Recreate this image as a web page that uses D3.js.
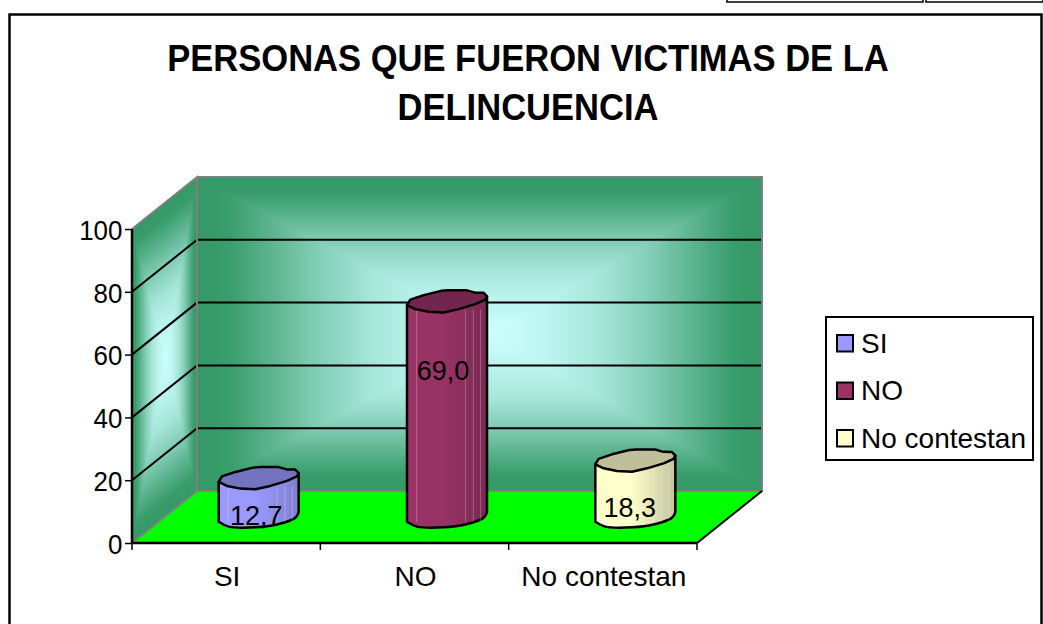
<!DOCTYPE html>
<html><head><meta charset="utf-8">
<script src="https://cdn.jsdelivr.net/npm/d3@7"></script>
<style>
html,body{margin:0;padding:0;background:#fff;overflow:hidden}
svg{display:block}
text{font-family:"Liberation Sans",Arial,sans-serif;fill:#000}
</style></head><body><svg id="c" width="1043" height="624"></svg>
<script>
const categories = ["SI","NO","No contestan"];
const values = [12.7,69.0,18.3];
const valueLabels = ["12,7","69,0","18,3"];
const yTicks = [0,20,40,60,80,100];
const titleLines = ["PERSONAS QUE FUERON VICTIMAS DE LA","DELINCUENCIA"];
const bodyColors = ["#9999ff","#993366","#ffffcc"];
const topColors = ["#7373bf","#73264d","#bfbf99"];
const sideColors = ["#8080d0","#7a2952","#c4c4a0"];

const depthX=65, depthY=52;
const svg=d3.select("#c");
const defs=svg.append("defs");
const x=d3.scaleBand().domain(categories).range([132,697]);
const y=d3.scaleLinear().domain([0,100]).range([543,229]);
const bx=x.range()[0], ex=x.range()[1], y0=y(0), yT=y(100);

function label(sel,tx,ty,str,size,anchor,sx){
  return sel.append("text").attr("transform",`translate(${tx},${ty}) scale(${sx||1},1)`)
   .attr("text-anchor",anchor||"middle").attr("font-size",size).text(str);
}
// outer frame and stray table lines above it
svg.append("rect").attr("x",9.5).attr("y",14.5).attr("width",1032).attr("height",640)
  .attr("fill","#fff").attr("stroke","#000").attr("stroke-width",2.5);
const stray=svg.append("g").attr("fill","none").attr("stroke","#000").attr("stroke-width",1.5);
[[727,923],[926,1043]].forEach(s=>stray.append("path").attr("d",`M${s[0]},0V2H${s[1]}V0`));

// titles
titleLines.forEach((t,i)=>{
  svg.append("text").attr("transform",`translate(528,${71+i*49}) scale(.96,1)`).attr("text-anchor","middle")
    .attr("font-size",36).attr("font-weight",700).text(t);
});

// rectangular "from centre" gradient on a unit square: min of two ramps
const edge="#339966", mid="#ccffff", ci=d3.interpolateRgb(edge,mid);
const ramp=[[0,0],[.05,.03],[.1,.18],[.2,.5],[.3,.76],[.4,.9],[.5,1]];
function gradient(id,horizontal,centre){
  const lg=defs.append("linearGradient").attr("id",id).attr("x1",0).attr("y1",0)
    .attr("x2",horizontal?1:0).attr("y2",horizontal?0:1);
  ramp.forEach(r=>lg.append("stop").attr("offset",r[0]*2*centre).attr("stop-color",ci(r[1])));
  ramp.slice(0,-1).reverse().forEach(r=>lg.append("stop").attr("offset",1-r[0]*2*(1-centre)).attr("stop-color",ci(r[1])));
}
gradient("gh",true,.52); gradient("gv",false,.5);
function wall(m){
  const g=svg.append("g").attr("transform",`matrix(${m})`).style("isolation","isolate");
  g.append("rect").attr("width",1).attr("height",1).attr("fill","url(#gh)");
  g.append("rect").attr("width",1).attr("height",1).attr("fill","url(#gv)").style("mix-blend-mode","darken");
}
const W=ex-bx, H=y0-yT;
wall([W,0,0,H,bx+depthX,yT-depthY]);
wall([depthX,-depthY,0,H,bx,yT]);

// floor
svg.append("path").attr("d",`M${bx},${y0}L${ex},${y0}L${ex+depthX},${y0-depthY}L${bx+depthX},${y0-depthY}Z`).attr("fill","#00ff00");

// grid lines
const grid=svg.append("g").attr("stroke","#000").attr("stroke-width",2).attr("fill","none");
yTicks.filter(v=>v>0&&v<100).forEach(v=>{
  grid.append("path").attr("d",`M${bx},${y(v)}L${bx+depthX},${y(v)-depthY}H${ex+depthX}`);
});
// wall borders
svg.append("path").attr("fill","none").attr("stroke","#808080").attr("stroke-width",2)
  .attr("d",`M${bx},${y0}L${bx+depthX},${y0-depthY}V${yT-depthY}L${bx},${yT}M${bx+depthX},${yT-depthY}H${ex+depthX}V${y0-depthY}H${bx+depthX}`);
svg.append("path").attr("fill","none").attr("stroke","#000").attr("stroke-width",2)
  .attr("d",`M${ex},${y0}L${ex+depthX},${y0-depthY}`);

// cylinders
const topShape=[[-40,4.3],[-36.7,-1.2],[-23.3,-5.7],[-6,-10],[1,-10.5],[20,-10.5],[28,-8.2],[36.7,-8],[40,-4.5],[38.3,-1.2],[28.3,3.3],[11.7,8.3],[-3.3,11.7],[-18.3,11],[-31.7,8.3]];
const botShape=[[-40,4.7],[-30,9.6],[-3.3,10.3],[18.3,7.5],[36.7,.8],[40,-4.7]];
const seams=[.12,.73,.83,.92];
const lineC=d3.line().curve(d3.curveLinearClosed);
const lineO=d3.line().curve(d3.curveCatmullRom.alpha(.5));
categories.forEach((c,i)=>{
  const cx=x(c)+x.bandwidth()/2+depthX/2;
  const base=y0-depthY/2, ty=y(values[i])-depthY/2+.5;
  const lg=defs.append("linearGradient").attr("id","b"+i);
  [[0,bodyColors[i]],[.45,bodyColors[i]],[1,sideColors[i]]].forEach(s=>lg.append("stop").attr("offset",s[0]).attr("stop-color",s[1]));
  const g=svg.append("g").attr("transform",`translate(${cx},0)`);
  const bot=lineO(botShape.map(p=>[p[0],base+p[1]]));
  g.append("path").attr("d",`M-40,${ty+4.3}L${bot.slice(1)}L40,${ty-4.5}Z`)
    .attr("fill",`url(#b${i})`).attr("stroke","#000").attr("stroke-width",2.5).attr("stroke-linejoin","round");
  seams.forEach(f=>g.append("line").attr("x1",-40+80*f).attr("x2",-40+80*f).attr("y1",ty+9).attr("y2",base+5)
    .attr("stroke","#fff").attr("stroke-opacity",.25).attr("stroke-width",1));
  g.append("path").attr("d",lineC(topShape.map(p=>[p[0],ty+p[1]])))
    .attr("fill",topColors[i]).attr("stroke","#000").attr("stroke-width",2.5).attr("stroke-linejoin","round");
});
// value labels: placed as in the picture, inside each column
const labelNudgeX=[-2.5,-4,-5.5], labelBaseline=[525,380,517];
categories.forEach((c,i)=>{
  const cx=x(c)+x.bandwidth()/2+depthX/2;
  label(svg,cx+labelNudgeX[i],labelBaseline[i],valueLabels[i],27);
});

// axes
const yAxis=d3.axisLeft(y).tickValues(yTicks).tickSize(7).tickPadding(3).tickFormat(d3.format("d"));
const ax=svg.append("g").attr("transform",`translate(${bx},0)`).call(yAxis);
ax.select(".domain").attr("stroke","#000").attr("stroke-width",2.5).attr("d",`M0,${yT}V${y0}`);
ax.selectAll(".tick line").attr("stroke","#000").attr("stroke-width",1.5);
ax.selectAll(".tick text").attr("font-size",27).attr("fill","#000").attr("font-family",'"Liberation Sans"')
  .attr("dy","0.38em").attr("transform","scale(.96,1)");
const xAxis=d3.axisBottom(x).tickSize(0).tickPadding(23);
const bxg=svg.append("g").attr("transform",`translate(1,${y0})`).call(xAxis);
bxg.select(".domain").attr("stroke","#000").attr("stroke-width",2.5).attr("d",`M${bx-1},0H${ex-1}`);
bxg.selectAll(".tick text").attr("font-size",28).attr("fill","#000").attr("font-family",'"Liberation Sans"');
const edges=[...categories.map(c=>x(c)),ex];
svg.append("g").selectAll("line").data(edges).join("line").attr("x1",d=>d).attr("x2",d=>d)
  .attr("y1",y0).attr("y2",y0+7).attr("stroke","#000").attr("stroke-width",1.5);

// legend
const lg=svg.append("g");
lg.append("rect").attr("x",826).attr("y",317).attr("width",207).attr("height",143).attr("fill","#fff").attr("stroke","#000").attr("stroke-width",2);
categories.forEach((c,i)=>{
  const yy=343.5+i*47.5;
  lg.append("rect").attr("x",837).attr("y",yy-8.5).attr("width",16).attr("height",16.5).attr("fill",bodyColors[i]).attr("stroke","#000").attr("stroke-width",2);
  label(lg,861,yy+9,c,28,"start");
});
</script></body></html>
